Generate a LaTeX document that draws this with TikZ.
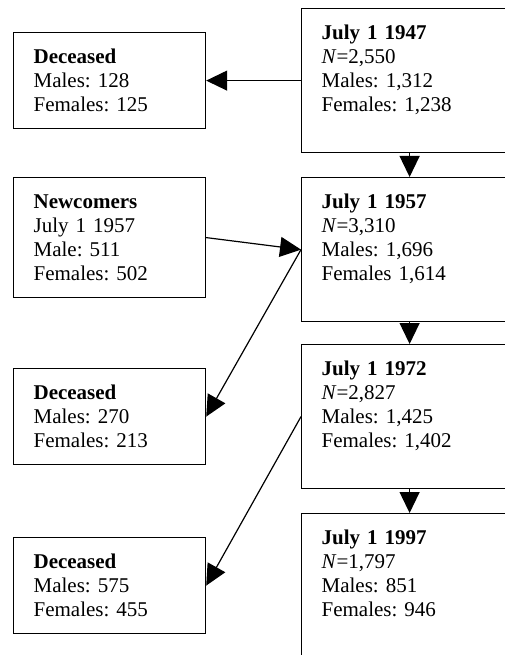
\documentclass[tikz,border=0pt]{standalone}
\usepackage{fontspec}
\setmainfont{Liberation Serif}
\usepackage{tikz}
\usetikzlibrary{arrows.meta}
\frenchspacing
\tikzset{
  cohort/.style={draw=black, fill=white, line width=1.2pt, anchor=north west,
    align=left, inner xsep=20pt, inner ysep=0pt, text height=31pt,
    font=\fontsize{21}{24}\selectfont},
  leftbox/.style={cohort, text width=152pt},
  rightbox/.style={cohort, text width=176pt, text depth=113pt},
  flow/.style={draw=black, line width=1.2pt, -{Triangle[length=21pt,width=20pt]}}
}

\begin{document}
\begin{tikzpicture}[scale=1.000000,x=1pt,y=1pt]
\clip (0.000000, 0.000000) rectangle (505.000000, -655.000000);
\filldraw[color=white] (0.000000, 0.000000) rectangle (505.000000, -655.000000);
% Drawing cohort boxes
% Box 1: census 1947
\node[rightbox] (r1) at (301.000000, -8.000000) {\textbf{July 1 1947}\\\textit{N}=2,550\\Males: 1,312\\Females: 1,238};
% Box 2: census 1957
\node[rightbox] (r2) at (301.000000, -177.000000) {\textbf{July 1 1957}\\\textit{N}=3,310\\Males: 1,696\\Females 1,614};
% Box 3: census 1972
\node[rightbox] (r3) at (301.000000, -344.000000) {\textbf{July 1 1972}\\\textit{N}=2,827\\Males: 1,425\\Females: 1,402};
% Box 4: census 1997
\node[rightbox] (r4) at (301.000000, -513.000000) {\textbf{July 1 1997}\\\textit{N}=1,797\\Males: 851\\Females: 946};
% Done with cohort boxes; drawing side boxes
% Box 5: deaths 1947-1957
\node[leftbox, text depth=65pt] (dec1) at (13.000000, -32.000000) {\textbf{Deceased}\\Males: 128\\Females: 125};
% Box 6: newcomers 1957
\node[leftbox, text depth=89pt] (newc) at (13.000000, -177.000000) {\textbf{Newcomers}\\July 1 1957\\Male: 511\\Females: 502};
% Box 7: deaths 1957-1972
\node[leftbox, text depth=65pt] (dec2) at (13.000000, -368.000000) {\textbf{Deceased}\\Males: 270\\Females: 213};
% Box 8: deaths 1972-1997
\node[leftbox, text depth=65pt] (dec3) at (13.000000, -537.000000) {\textbf{Deceased}\\Males: 575\\Females: 455};
% Done with boxes; drawing arrows
\draw[flow] (r1.west) -- (dec1.east);
\draw[flow] (r1.south) -- (r2.north);
\draw[flow] (newc.east) -- (r2.west);
\draw[flow] (r2.west) -- (dec2.east);
\draw[flow] (r2.south) -- (r3.north);
\draw[flow] (r3.west) -- (dec3.east);
\draw[flow] (r3.south) -- (r4.north);
% Done with arrows
\end{tikzpicture}
\end{document}
